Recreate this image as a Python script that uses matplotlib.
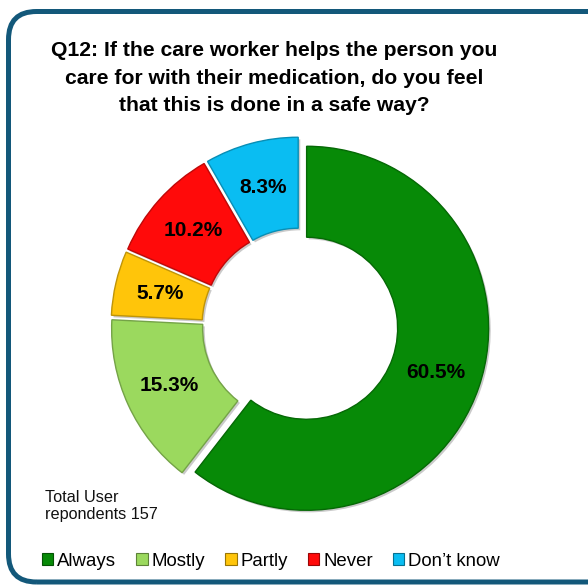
import matplotlib
matplotlib.use("Agg")
import matplotlib.pyplot as plt
from matplotlib.patches import FancyBboxPatch, Patch
from matplotlib.colors import to_rgb

plt.rcParams['font.family'] = ['Liberation Sans', 'DejaVu Sans']

# survey answers, percentages as printed on the ring
answers = ["Always", "Mostly", "Partly", "Never", "Don\u2019t know"]
percents = [60.5, 15.3, 5.7, 10.2, 8.3]
colors = ["#078A07", "#9BD95E", "#FFC50A", "#FF0A0A", "#0ABDF2"]
n_respondents = 157

title = ("Q12: If the care worker helps the person you\n"
         "care for with their medication, do you feel\n"
         "that this is done in a safe way?")

W, H = 588, 585


def darker(c, k=0.75):
    return tuple(v * k for v in to_rgb(c))


fig = plt.figure(figsize=(W / 100, H / 100), dpi=100)
ax = fig.add_axes([0, 0, 1, 1])

wedges, texts, autotexts = ax.pie(
    percents, colors=colors, startangle=90, counterclock=False,
    center=(300, H - 326), radius=182, explode=[7] * len(percents),
    autopct='%.1f%%', pctdistance=0.75,
    wedgeprops=dict(width=91, linewidth=1.0),
    shadow=dict(ox=1.5, oy=-1.5, facecolor='#8a8a8a', edgecolor='none', alpha=0.45),
    textprops=dict(fontsize=15, fontweight='bold', color='black'))
for w, c in zip(wedges, colors):
    w.set_edgecolor(darker(c))

ax.set_xlim(0, W)
ax.set_ylim(0, H)
ax.set_aspect('equal')
ax.axis('off')

# rounded frame, its right side sits past the figure edge
frame = FancyBboxPatch((8.5, H - 582), 640 - 8.5, 582 - 11.5,
                       boxstyle="round,pad=0,rounding_size=28",
                       facecolor='none', edgecolor='#13587A', linewidth=3.6,
                       clip_on=False)
ax.add_patch(frame)

ax.text(274, H - 78, title, ha='center', va='center', fontsize=15.2,
        fontweight='bold', linespacing=1.55)

ax.text(45, H - 506, f"Total User\nrepondents {n_respondents}",
        ha='left', va='center', fontsize=11.7, color='#111111')

handles = [Patch(facecolor=c, edgecolor=darker(c, 0.6), linewidth=0.8)
           for c in colors]
ax.legend(handles, answers, loc='center', bbox_to_anchor=(271, H - 561),
          bbox_transform=ax.transData, ncol=5, frameon=False,
          fontsize=13.4, handlelength=0.6, handleheight=0.6,
          handletextpad=0.2, columnspacing=1.1, borderpad=0,
          borderaxespad=0)

fig.savefig("out.png", dpi=100)
